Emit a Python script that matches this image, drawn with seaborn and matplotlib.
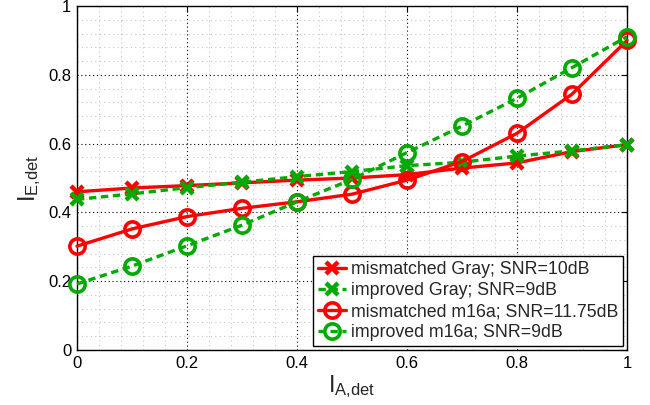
import numpy as np
import pandas as pd
import matplotlib
matplotlib.use("Agg")
import matplotlib.pyplot as plt
import seaborn as sns
from matplotlib.ticker import MultipleLocator

# ---- data ----
x_vals = [0.0, 0.1, 0.2, 0.3, 0.4, 0.5, 0.6, 0.7, 0.8, 0.9, 1.0]
mismatched_gray = [0.460, 0.471, 0.478, 0.486, 0.494, 0.500, 0.510, 0.529, 0.544, 0.577, 0.597]
improved_gray = [0.438, 0.454, 0.472, 0.488, 0.504, 0.519, 0.536, 0.546, 0.564, 0.579, 0.597]
mismatched_m16a = [0.302, 0.352, 0.388, 0.412, 0.431, 0.453, 0.494, 0.548, 0.630, 0.744, 0.900]
improved_m16a = [0.192, 0.244, 0.303, 0.363, 0.431, 0.496, 0.574, 0.651, 0.732, 0.821, 0.911]
labels = ["mismatched Gray; SNR=10dB", "improved Gray; SNR=9dB",
          "mismatched m16a; SNR=11.75dB", "improved m16a; SNR=9dB"]
x_ticks = [0, 0.2, 0.4, 0.6, 0.8, 1.0]
x_ticklabels = ["0", "0.2", "0.4", "0.6", "0.8", "1"]
y_ticks = [0, 0.2, 0.4, 0.6, 0.8, 1.0]
y_ticklabels = ["0", "0.2", "0.4", "0.6", "0.8", "1"]

sns.set_style("white")
plt.rcParams['font.family'] = ['Liberation Sans', 'DejaVu Sans']
plt.rcParams['mathtext.fontset'] = 'custom'
plt.rcParams['mathtext.rm'] = 'Liberation Sans'
plt.rcParams['mathtext.it'] = 'Liberation Sans'

RED = '#ff0000'
GREEN = '#00aa00'

fig = plt.figure(figsize=(6.5, 4.05), dpi=100)
ax = fig.add_axes([0.1185, 0.1358, 0.8461, 0.8492])

series = [
    (mismatched_gray, RED, 'x', '-', dict(markersize=8, markeredgewidth=3.2)),
    (improved_gray, GREEN, 'x', (0, (2.2, 1.4)), dict(markersize=8, markeredgewidth=3.2)),
    (mismatched_m16a, RED, 'o', '-', dict(markersize=11, markeredgewidth=2.6, markerfacecolor='none')),
    (improved_m16a, GREEN, 'o', (0, (2.2, 1.4)), dict(markersize=11, markeredgewidth=2.6, markerfacecolor='none')),
]
for (vals, col, mk, ls, kw), lab in zip(series, labels):
    df = pd.DataFrame({'x': x_vals, 'y': vals})
    sns.lineplot(data=df, x='x', y='y', ax=ax, color=col, marker=mk,
                 linestyle=ls, linewidth=2.4, markeredgecolor=col,
                 label=lab, clip_on=False, zorder=3, **kw)

ax.set_xlim(0, 1)
ax.set_ylim(0, 1)
ax.set_xticks(x_ticks)
ax.set_xticklabels(x_ticklabels)
ax.set_yticks(y_ticks)
ax.set_yticklabels(y_ticklabels)
ax.xaxis.set_minor_locator(MultipleLocator(0.04))
ax.yaxis.set_minor_locator(MultipleLocator(0.04))
ax.grid(which='minor', color='#c8c8c8', linestyle=(0, (1, 3)), linewidth=0.8)
ax.grid(which='major', color='black', linestyle=(0, (1, 2.5)), linewidth=0.8)
ax.set_axisbelow(True)
ax.tick_params(which='major', direction='in', length=4, width=0.8,
               top=True, right=True, labelsize=12, colors='black', pad=4)
ax.tick_params(which='minor', length=0)
for s in ax.spines.values():
    s.set_color('black')
    s.set_linewidth(1.0)

ax.set_xlabel(r'$\mathregular{I_{A{,}det}}$', fontsize=17, labelpad=2)
ax.set_ylabel(r'$\mathregular{I_{E{,}det}}$', fontsize=17, labelpad=4)

leg = ax.legend(loc='lower right', fontsize=12.8, frameon=True, fancybox=False,
                handlelength=1.6, handletextpad=0.25, borderpad=0.3,
                labelspacing=0.22, borderaxespad=0.2)
leg.get_frame().set_edgecolor('black')
leg.get_frame().set_linewidth(1.0)
leg.get_frame().set_alpha(1)

fig.savefig('out.png', dpi=100)
